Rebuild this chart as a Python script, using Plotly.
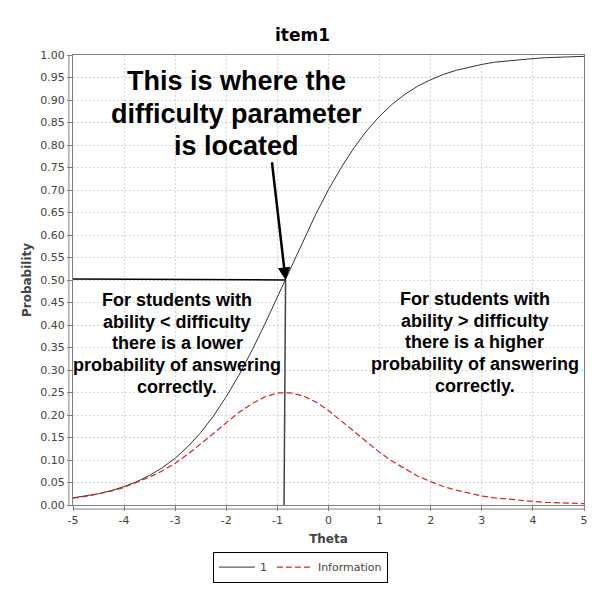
import plotly.graph_objects as go

# item characteristic curve (theta vs probability)
theta = [-5.0, -4.75, -4.5, -4.25, -4.0, -3.75, -3.5, -3.25, -3.0, -2.75,
         -2.5, -2.25, -2.0, -1.75, -1.5, -1.25, -1.0, -0.75, -0.5, -0.25,
         0.0, 0.25, 0.5, 0.75, 1.0, 1.25, 1.5, 1.75, 2.0, 2.25,
         2.5, 2.75, 3.0, 3.25, 3.5, 3.75, 4.0, 4.25, 4.5, 4.75, 5.0]
probability = [0.016, 0.020, 0.025, 0.032, 0.041, 0.052, 0.066, 0.083, 0.104, 0.130,
               0.161, 0.198, 0.241, 0.289, 0.343, 0.401, 0.463, 0.525, 0.587, 0.646,
               0.701, 0.750, 0.794, 0.832, 0.864, 0.891, 0.913, 0.931, 0.945, 0.957,
               0.966, 0.973, 0.979, 0.984, 0.987, 0.990, 0.992, 0.994, 0.995, 0.996, 0.997]
information = [0.015, 0.019, 0.025, 0.031, 0.039, 0.050, 0.062, 0.076, 0.093, 0.113,
               0.135, 0.159, 0.183, 0.206, 0.225, 0.240, 0.249, 0.249, 0.243, 0.229,
               0.210, 0.187, 0.164, 0.140, 0.117, 0.097, 0.080, 0.064, 0.052, 0.041,
               0.033, 0.026, 0.020, 0.016, 0.013, 0.010, 0.008, 0.006, 0.005, 0.004, 0.003]

# where the difficulty marker sits
difficulty_theta = -0.84
difficulty_p = 0.50
arrow_from = (-1.11, 0.765)

x_ticks = [-5, -4, -3, -2, -1, 0, 1, 2, 3, 4, 5]
y_ticks = [round(i * 0.05, 2) for i in range(21)]

top_note = ["This is where the", "difficulty parameter", "is located"]
left_note = ["For students with", "ability &lt; difficulty", "there is a lower",
             "probability of answering", "correctly."]
right_note = ["For students with", "ability &gt; difficulty", "there is a higher",
              "probability of answering", "correctly."]

# the page has an 8px body margin, so the figure is a bit under 600
W, H = 589, 584
M = dict(l=65, r=9, t=47, b=87)
plot_h = H - M["t"] - M["b"]

fig = go.Figure()
fig.add_trace(go.Scatter(x=theta, y=probability, mode="lines", name="1",
                         line=dict(color="#333333", width=1)))
fig.add_trace(go.Scatter(x=theta, y=information, mode="lines", name="Information",
                         line=dict(color="#cc2929", width=1.2, dash="6px,3px")))

# guide lines to the difficulty point
fig.add_shape(type="line", x0=-5, y0=difficulty_p + 0.002, x1=difficulty_theta, y1=difficulty_p,
              line=dict(color="black", width=1.5))
fig.add_shape(type="line", x0=difficulty_theta - 0.03, y0=0, x1=difficulty_theta, y1=difficulty_p,
              line=dict(color="#444444", width=1.5))

# offset axis lines, like the original
fig.add_shape(type="line", xref="paper", yref="paper", x0=-0.008, x1=-0.008, y0=0, y1=1,
              line=dict(color="#808080", width=1))
fig.add_shape(type="line", xref="paper", yref="paper", x0=0, x1=1, y0=-0.009, y1=-0.009,
              line=dict(color="#808080", width=1))


def add_block(lines, x, y_first, size, step_px):
    step = step_px / plot_h
    for i, line in enumerate(lines):
        fig.add_annotation(x=x, y=y_first - i * step, text=f"<b>{line}</b>", showarrow=False,
                           font=dict(family="Liberation Sans, Arial", size=size, color="black"),
                           xanchor="center", yanchor="middle")


add_block(top_note, -1.81, 0.942, 27, 32.5)
add_block(left_note, -2.96, 0.456, 18, 21.7)
add_block(right_note, 2.86, 0.458, 18, 21.7)

fig.add_annotation(x=difficulty_theta, y=difficulty_p, ax=arrow_from[0], ay=arrow_from[1],
                   axref="x", ayref="y", text="", showarrow=True,
                   arrowhead=2, arrowsize=1, arrowwidth=2.5, arrowcolor="black")

tick_font = dict(family="DejaVu Sans", size=11, color="#444444")
title_font = dict(family="DejaVu Sans", size=12, color="#444444")

fig.update_xaxes(range=[-5, 5], tickvals=x_ticks, ticktext=[str(v) for v in x_ticks],
                 showgrid=True, gridcolor="#d6d6d6", griddash="2px,2px", gridwidth=1,
                 zeroline=False, showline=True, linecolor="#808080", mirror=True,
                 ticks="outside", ticklen=5, tickcolor="#808080", tickfont=tick_font,
                 title=dict(text="<b>Theta</b>", font=title_font, standoff=8))
fig.update_yaxes(range=[0, 1], tickvals=y_ticks, ticktext=[f"{v:.2f}" for v in y_ticks],
                 showgrid=True, gridcolor="#d6d6d6", griddash="2px,2px", gridwidth=1,
                 zeroline=False, showline=True, linecolor="#808080", mirror=True,
                 ticks="outside", ticklen=5, tickcolor="#808080", tickfont=tick_font,
                 title=dict(text="<b>Probability</b>", font=title_font, standoff=6))

fig.update_layout(
    width=W, height=H,
    margin=M,
    paper_bgcolor="white", plot_bgcolor="white",
    title=dict(text="<b>item1</b>", x=0.5, xanchor="center", y=1 - 27 / H, yanchor="middle",
               font=dict(family="DejaVu Sans", size=17, color="black")),
    legend=dict(orientation="h", x=0.445, xanchor="center", y=-0.138, yanchor="middle",
                bordercolor="black", borderwidth=1, font=tick_font, itemwidth=36,
                tracegroupgap=0),
    showlegend=True,
)

fig.write_html("out.html")
